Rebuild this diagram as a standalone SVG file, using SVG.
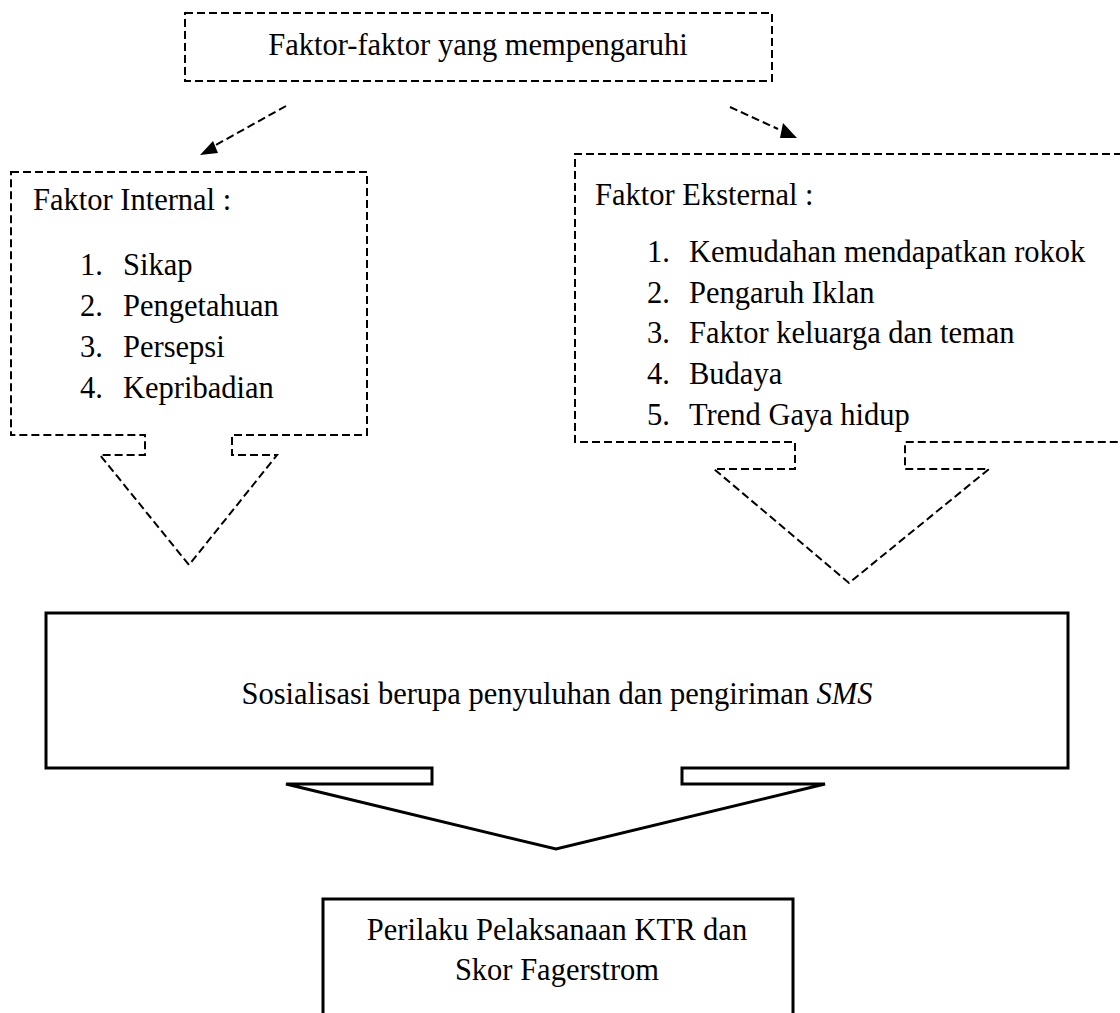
<svg xmlns="http://www.w3.org/2000/svg" width="1120" height="1013" viewBox="0 0 1120 1013">
<style>
text{font-family:"Liberation Serif","Times New Roman",serif;font-size:30.5px;fill:#000}
.dash{fill:none;stroke:#000;stroke-width:2;stroke-dasharray:8 4}
.solid{fill:none;stroke:#000;stroke-width:3;stroke-linejoin:miter}
.head{fill:#000;stroke:none}
</style>
<rect width="1120" height="1013" fill="#fff"/>
<g id="node-top">
<rect class="dash" x="185" y="13" width="587" height="68"/>
<text x="478" y="55" text-anchor="middle">Faktor-faktor yang mempengaruhi</text>
</g>
<g id="connectors">
<line class="dash" x1="286" y1="106" x2="214" y2="146"/>
<polygon class="head" points="213,141 200,155 218,153"/>
<line class="dash" x1="730" y1="107" x2="778" y2="129"/>
<polygon class="head" points="783,123 780,138 797,138"/>
</g>
<g id="node-internal">
<path class="dash" d="M 11 172 H 367 V 435 H 232 V 455 H 277 L 189 565 L 100 455 H 145 V 435 H 11 Z"/>
<text x="33" y="210">Faktor Internal :</text>
<text x="80" y="275">1.</text><text x="123" y="275">Sikap</text>
<text x="80" y="316">2.</text><text x="123" y="316">Pengetahuan</text>
<text x="80" y="357">3.</text><text x="123" y="357">Persepsi</text>
<text x="80" y="398">4.</text><text x="123" y="398">Kepribadian</text>
</g>
<g id="node-external">
<path class="dash" d="M 1122 154 H 575 V 442 H 795 V 469 H 714 L 849 583 L 989 469 H 905 V 442 H 1122"/>
<text x="595" y="205">Faktor Eksternal :</text>
<text x="647" y="262">1.</text><text x="689" y="262">Kemudahan mendapatkan rokok</text>
<text x="647" y="303">2.</text><text x="689" y="303">Pengaruh Iklan</text>
<text x="647" y="343">3.</text><text x="689" y="343">Faktor keluarga dan teman</text>
<text x="647" y="384">4.</text><text x="689" y="384">Budaya</text>
<text x="647" y="425">5.</text><text x="689" y="425">Trend Gaya hidup</text>
</g>
<g id="node-sosialisasi">
<path class="solid" d="M 46 613 H 1068 V 768 H 682 V 784 H 825 L 556 849 L 286 784 H 432 V 768 H 46 Z"/>
<text x="557" y="704" text-anchor="middle">Sosialisasi berupa penyuluhan dan pengiriman <tspan font-style="italic">SMS</tspan></text>
</g>
<g id="node-perilaku">
<path class="solid" d="M 323 1015 V 899 H 793 V 1015"/>
<text x="557" y="940" text-anchor="middle">Perilaku Pelaksanaan KTR dan</text>
<text x="557" y="980" text-anchor="middle">Skor Fagerstrom</text>
</g>
</svg>
